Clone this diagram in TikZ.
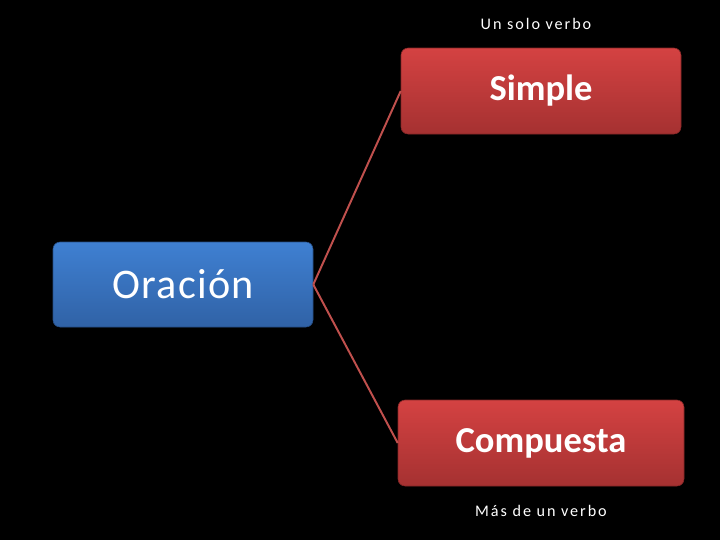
\documentclass[tikz,border=0pt]{standalone}
\usepackage{fontspec}
\setmainfont{Carlito}
\newfontfamily\widefont[LetterSpace=3]{Carlito}
\newfontfamily\notefont[LetterSpace=12]{Carlito}
\usetikzlibrary{positioning}
\definecolor{boxBlueTop}{HTML}{3F80D2}
\definecolor{boxBlueBot}{HTML}{3062A6}
\definecolor{boxRedTop}{HTML}{D44242}
\definecolor{boxRedBot}{HTML}{A53131}
\definecolor{linkRed}{HTML}{C0504D}

\begin{document}
\begin{tikzpicture}[
  every node/.style={text=white,inner sep=0pt},
  rootbox/.style={top color=boxBlueTop,bottom color=boxBlueBot,draw=boxBlueBot!80!black,line width=0.4pt,rounded corners=5pt,minimum width=6.5cm,minimum height=2.125cm,font=\widefont\fontsize{30}{36}\selectfont},
  kindbox/.style={top color=boxRedTop,bottom color=boxRedBot,draw=boxRedBot!80!black,line width=0.4pt,rounded corners=5pt,minimum height=2.15cm,font=\bfseries\fontsize{26}{31}\selectfont},
  note/.style={font=\notefont\fontsize{11.5}{14}\selectfont},
  link/.style={draw=linkRed,line width=1.4pt},
]
\fill[black] (0,0) rectangle (18,-13.5);
\useasboundingbox (0,0) rectangle (18,-13.5);

% root
\node[rootbox] (ORA) at (4.575,-7.1125) {Oración};

% kinds
\node[kindbox,minimum width=7cm]    (SIM) at (13.525,-2.275)  {Simple};
\node[kindbox,minimum width=7.15cm] (COM) at (13.525,-11.075) {Compuesta};

\draw[link] (ORA.east) -- (SIM.west);
\draw[link] (ORA.east) -- (COM.west);

% notes
\node[note] (NSIM) at (13.4,-0.6)    {Un solo verbo};
\node[note] (NCOM) at (13.525,-12.775) {Más de un verbo};
\end{tikzpicture}
\end{document}
